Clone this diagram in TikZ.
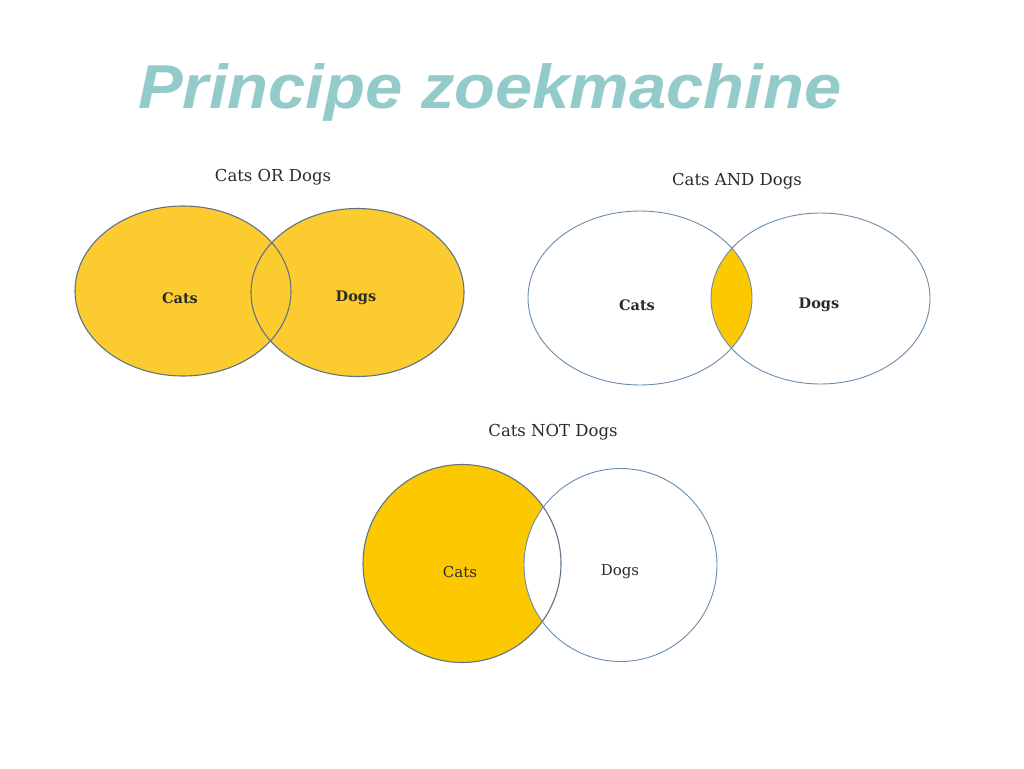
\documentclass[tikz,border=0pt]{standalone}
\usepackage{fontspec}
\setmainfont{DejaVu Serif}
\newfontfamily\titlefont{Liberation Sans}
\definecolor{titlecol}{HTML}{93CBCB}
\definecolor{goldA}{HTML}{FCCB30}
\definecolor{goldB}{HTML}{FCC800}
\definecolor{edgeA}{HTML}{5F7386}
\definecolor{edgeB}{HTML}{6A8CAF}
\definecolor{txt}{HTML}{2A2A2A}
\begin{document}
\begin{tikzpicture}[x=1pt,y=-1pt,
  settitle/.style={font=\fontsize{16.5}{18}\selectfont, text=txt, inner sep=0pt},
  setlabel/.style={font=\fontsize{14.5}{16}\selectfont\bfseries, text=txt, inner sep=0pt},
  plainlabel/.style={font=\fontsize{15}{16}\selectfont, text=txt, inner sep=0pt},
  edgeor/.style={draw=edgeA, line width=1.1pt},
  edgeand/.style={draw=edgeB, line width=0.9pt}]
\useasboundingbox[fill=white] (0,0) rectangle (1024,768);
% Title
\node[font=\titlefont\fontsize{62}{68}\selectfont\bfseries\itshape, text=titlecol, inner sep=0pt, anchor=base, xscale=1.08] (title) at (490,108) {Principe zoekmachine};

% OR diagram
\node[settitle] (ortitle) at (273,177) {Cats OR Dogs};
\fill[goldA] (183,291) ellipse [x radius=108, y radius=85];
\fill[goldA] (357.5,292.5) ellipse [x radius=106.5, y radius=84];
\draw[edgeor] (183,291) ellipse [x radius=108, y radius=85];
\draw[edgeor] (357.5,292.5) ellipse [x radius=106.5, y radius=84];
\node[setlabel] (orcats) at (180,298) {Cats};
\node[setlabel] (ordogs) at (356,298) {Dogs};

% AND diagram
\node[settitle] (andtitle) at (737,181) {Cats AND Dogs};
\begin{scope}
  \clip (640,298) ellipse [x radius=112, y radius=87];
  \fill[goldB] (820.5,298.5) ellipse [x radius=109.5, y radius=85.5];
\end{scope}
\draw[edgeand] (640,298) ellipse [x radius=112, y radius=87];
\draw[edgeand] (820.5,298.5) ellipse [x radius=109.5, y radius=85.5];
\node[setlabel] (andcats) at (637,305) {Cats};
\node[setlabel] (anddogs) at (819,305) {Dogs};

% NOT diagram
\node[settitle] (nottitle) at (553,432) {Cats NOT Dogs};
\fill[goldB] (462,563.5) circle [radius=99];
\fill[white] (620.5,565) circle [radius=96.5];
\draw[edgeor] (462,563.5) circle [radius=99];
\draw[edgeand] (620.5,565) circle [radius=96.5];
\node[plainlabel] (notcats) at (460,572) {Cats};
\node[plainlabel] (notdogs) at (620,572) {Dogs};
\end{tikzpicture}
\end{document}
